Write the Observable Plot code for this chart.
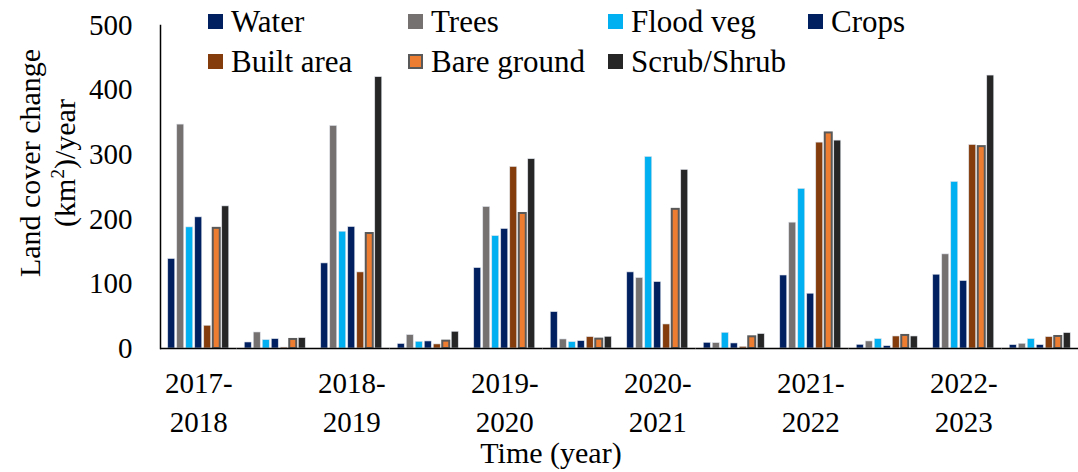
<!DOCTYPE html>
<html>
<head>
<meta charset="utf-8">
<script src="https://cdn.jsdelivr.net/npm/d3@7"></script>
<script src="https://cdn.jsdelivr.net/npm/@observablehq/plot@0.6"></script>
<style>
  html, body { margin: 0; padding: 0; background: #fff; overflow: hidden; }
  #wrap { position: relative; width: 1078px; height: 472px; overflow: hidden; font-family: "Liberation Serif", serif; color: #000; }
  #wrap svg { position: absolute; left: 0; top: 0; }
  .lg-sw { position: absolute; width: 15px; height: 15px; box-sizing: border-box; }
  .lg-tx { position: absolute; font-family: "Liberation Serif", serif; font-size: 31px; line-height: 31px; white-space: nowrap; }
  #ytitle { position: absolute; width: 300px; left: -103px; top: 128px; text-align: center; font-family: "Liberation Serif", serif; font-size: 30px; line-height: 35px; transform: rotate(-90deg); white-space: nowrap; }
  #xtitle { position: absolute; left: 24px; width: 1054px; top: 436px; text-align: center; font-family: "Liberation Serif", serif; font-size: 30px; line-height: 34px; }
</style>
</head>
<body>
<div id="wrap"></div>
<script>
// Period labels (every other group is an unlabeled group)
const periodLabels = ["2017-2018", "", "2018-2019", "", "2019-2020", "", "2020-2021", "", "2021-2022", "", "2022-2023", ""];

// Series names and colours
const seriesNames = ["Water", "Trees", "Flood veg", "Crops", "Built area", "Bare ground", "Scrub/Shrub"];
const seriesColors = ["#002060", "#767171", "#00B0F0", "#002060", "#843C0C", "#ED7D31", "#262626"];

// Values (km²/year) per group
const water = [138.5, 9.3, 131.7, 7.0, 124.5, 56.3, 117.8, 8.8, 113.0, 5.7, 114.2, 5.2];
const trees = [346.6, 24.8, 344.5, 20.7, 219.0, 14.0, 109.0, 8.3, 194.8, 10.9, 145.7, 7.3];
const floodVeg = [187.5, 13.0, 180.8, 10.4, 174.0, 9.9, 296.5, 24.3, 247.0, 14.5, 257.8, 14.5];
const crops = [203.0, 14.5, 188.0, 10.9, 185.0, 11.4, 102.8, 7.8, 84.8, 3.6, 104.4, 5.2];
const builtArea = [35.2, 1.5, 117.8, 6.3, 281.0, 17.6, 37.2, 2.6, 318.7, 18.6, 315.0, 17.6];
const bareGround = [186.0, 14.0, 178.0, 11.4, 209.0, 14.5, 215.4, 18.1, 333.7, 20.2, 312.5, 18.6];
const scrubShrub = [220.0, 16.0, 420.0, 25.9, 293.0, 18.1, 276.4, 22.3, 321.8, 18.6, 422.5, 23.8];

const yTicks = [0, 100, 200, 300, 400, 500];

const seriesValues = [water, trees, floodVeg, crops, builtArea, bareGround, scrubShrub];
const groups = d3.range(periodLabels.length);
const data = [];
groups.forEach(g => seriesNames.forEach((s, k) => data.push({g, series: s, value: seriesValues[k][g]})));

const chart = Plot.plot({
  width: 1078,
  height: 472,
  marginLeft: 160,
  marginRight: 0,
  marginTop: 25,
  marginBottom: 124,
  style: {fontFamily: "Liberation Serif", fontSize: "29px", color: "#000", background: "transparent"},
  fx: {domain: groups, paddingInner: 0, paddingOuter: 0, round: false},
  x: {domain: seriesNames, paddingInner: 0.222, paddingOuter: 0.861, round: false, axis: null},
  y: {domain: [0, 500]},
  color: {domain: seriesNames, range: seriesColors},
  marks: [
    Plot.barY(data, {fx: "g", x: "series", y: "value", fill: "series", stroke: "#dfe3ea", strokeWidth: 0.6}),
    Plot.barY(data, {fx: "g", x: "series", y: "value", fill: "#ED7D31", stroke: "#595959", strokeWidth: 2, filter: d => d.series === "Bare ground"}),
    Plot.ruleY([0], {stroke: "#000", strokeWidth: 1.5}),
    Plot.frame({anchor: "left", facetAnchor: "left", stroke: "#000", strokeWidth: 1.5}),
    Plot.axisY({ticks: yTicks, tickSize: 0, tickPadding: 28, label: null}),
    Plot.axisFx({anchor: "bottom", tickSize: 0, tickPadding: 24, label: null,
      tickFormat: i => periodLabels[i] ? periodLabels[i].split("-")[0] + "-" : ""}),
    Plot.axisFx({anchor: "bottom", tickSize: 0, tickPadding: 63, label: null,
      tickFormat: i => periodLabels[i] ? periodLabels[i].split("-")[1] : ""})
  ]
});

const wrap = document.getElementById("wrap");
wrap.appendChild(chart);

// Legend (overlaid at the top of the plot area)
seriesNames.forEach((s, k) => {
  const col = k < 4 ? k : k - 4;
  const row = k < 4 ? 0 : 1;
  const sx = 208 + 200 * col;
  const sy = 14 + 40 * row;
  const sw = document.createElement("div");
  sw.className = "lg-sw";
  sw.style.left = sx + "px";
  sw.style.top = sy + "px";
  sw.style.background = seriesColors[k];
  if (s === "Bare ground") sw.style.border = "2px solid #595959";
  wrap.appendChild(sw);
  const tx = document.createElement("div");
  tx.className = "lg-tx";
  tx.style.left = (sx + 23) + "px";
  tx.style.top = (6 + 40 * row) + "px";
  tx.textContent = s;
  wrap.appendChild(tx);
});

const yt = document.createElement("div");
yt.id = "ytitle";
yt.innerHTML = "Land cover change<br>(km<sup style=\"font-size:19px;line-height:0\">2</sup>)/year";
wrap.appendChild(yt);

const xt = document.createElement("div");
xt.id = "xtitle";
xt.textContent = "Time (year)";
wrap.appendChild(xt);
</script>
</body>
</html>
